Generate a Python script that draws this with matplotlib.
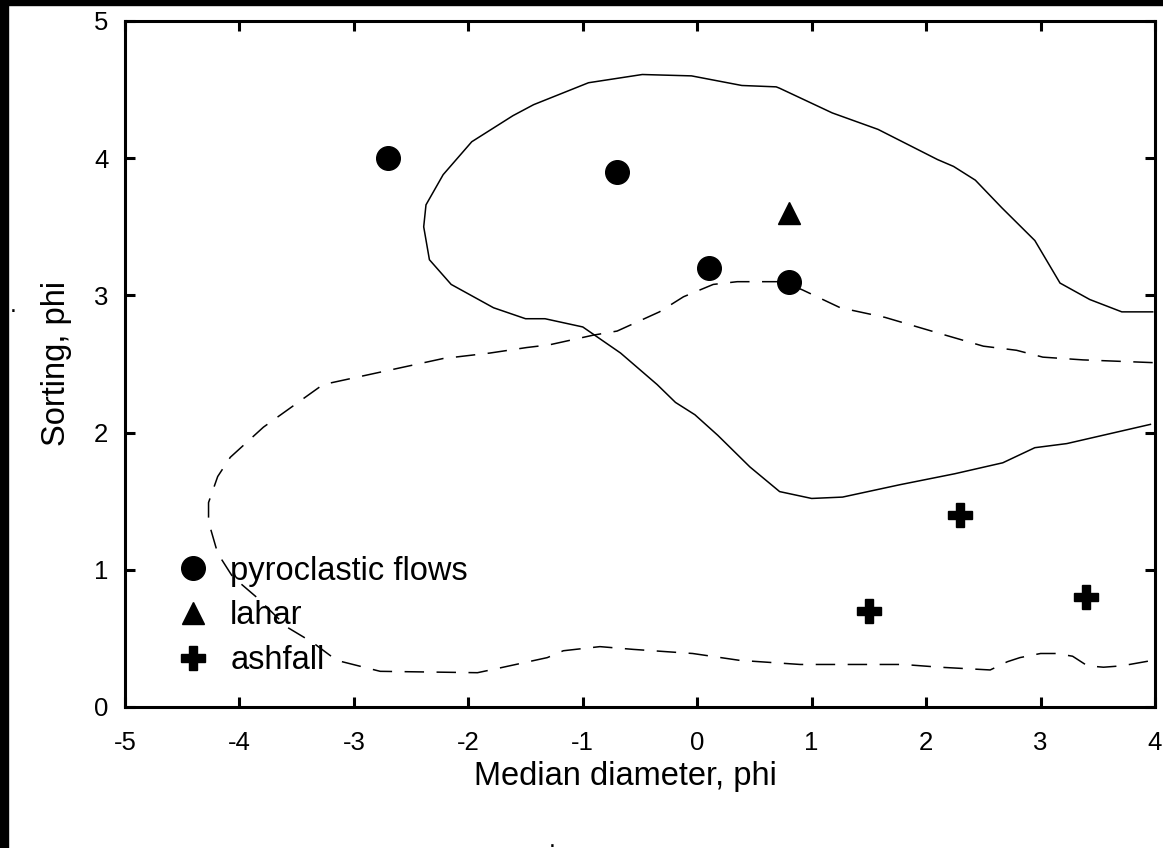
import matplotlib
matplotlib.use("Agg")
import matplotlib.pyplot as plt
from matplotlib.patches import Rectangle

plt.rcParams['font.family'] = ['Liberation Sans', 'DejaVu Sans']
plt.rcParams['lines.scale_dashes'] = False

# ---- data ----
flow_x = [-2.7, -0.7, 0.1, 0.8]
flow_y = [4.0, 3.9, 3.2, 3.1]
lahar_x = [0.8]
lahar_y = [3.6]
ash_x = [1.5, 2.3, 3.4]
ash_y = [0.7, 1.4, 0.8]

solid_x = [3.98, 3.71, 3.43, 3.17, 2.95, 2.66, 2.43, 2.24, 2.10, 1.58, 1.18, 0.72, 0.69, 0.39,
           -0.05, -0.48, -0.95, -1.43, -1.61, -1.97, -2.22, -2.37, -2.39, -2.34, -2.15, -1.78,
           -1.50, -1.33, -1.00, -0.67, -0.35, -0.19, -0.02, 0.18, 0.46, 0.72, 1.00, 1.27, 1.77,
           2.25, 2.67, 2.95, 3.23, 3.96]
solid_y = [2.88, 2.88, 2.97, 3.09, 3.40, 3.64, 3.84, 3.94, 3.99, 4.21, 4.33, 4.51, 4.52, 4.53,
           4.60, 4.61, 4.55, 4.39, 4.31, 4.12, 3.88, 3.66, 3.50, 3.26, 3.08, 2.91,
           2.83, 2.83, 2.77, 2.58, 2.35, 2.22, 2.13, 1.98, 1.75, 1.57, 1.52, 1.53, 1.62,
           1.70, 1.78, 1.89, 1.92, 2.06]

dash_x = [3.98, 3.37, 3.02, 2.79, 2.50, 2.17, 1.64, 1.25, 0.92, 0.75, 0.35, 0.14, -0.12, -0.33,
          -0.70, -0.91, -1.29, -1.49, -1.81, -2.22, -3.27, -3.79, -4.08, -4.19, -4.27, -4.27,
          -4.19, -4.06, -3.85, -3.58, -3.36, -3.15, -2.77, -1.92, -1.75, -1.31, -1.17, -0.85,
          -0.56, -0.04, 0.37, 0.90, 1.80, 2.12, 2.56, 2.71, 2.82, 3.00, 3.14, 3.28, 3.41, 3.55,
          3.71, 3.98]
dash_y = [2.51, 2.53, 2.55, 2.60, 2.63, 2.71, 2.84, 2.91, 3.04, 3.10, 3.10, 3.08, 2.99, 2.88,
          2.74, 2.71, 2.64, 2.62, 2.58, 2.54, 2.35, 2.04, 1.82, 1.68, 1.49, 1.35,
          1.12, 0.95, 0.80, 0.58, 0.47, 0.34, 0.26, 0.25, 0.28, 0.36, 0.41, 0.44,
          0.42, 0.39, 0.34, 0.31, 0.31, 0.29, 0.27, 0.33, 0.36, 0.39, 0.39, 0.37, 0.30, 0.29,
          0.30, 0.34]

x_ticks = [-5, -4, -3, -2, -1, 0, 1, 2, 3, 4]
y_ticks = [0, 1, 2, 3, 4, 5]
labels = ['pyroclastic flows', 'lahar', 'ashfall']

W, H = 1163, 848
fig = plt.figure(figsize=(W / 100, H / 100), dpi=100)
fig.patch.set_facecolor('white')
ax = fig.add_axes([125 / W, (H - 707) / H, 1030 / W, 686 / H])

ax.plot(solid_x, solid_y, color='black', lw=1.1, solid_joinstyle='miter')
ax.plot(dash_x, dash_y, color='black', lw=1.1, linestyle=(0, (14, 9)))

ax.plot(flow_x, flow_y, 'o', color='black', ms=17, label=labels[0], ls='none')
ax.plot(lahar_x, lahar_y, '^', color='black', ms=16, label=labels[1], ls='none')
ax.plot(ash_x, ash_y, 'P', color='black', ms=17, label=labels[2], ls='none')

ax.set_xlim(-5, 4)
ax.set_ylim(0, 5)
ax.set_xticks(x_ticks)
ax.set_yticks(y_ticks)
ax.set_xticklabels([str(v) for v in x_ticks])
ax.set_yticklabels([str(v) for v in y_ticks])
ax.tick_params(direction='in', length=7, width=2.2, labelsize=18.5, top=True, right=True,
               color='black')
ax.tick_params(axis='y', pad=12)
ax.tick_params(axis='x', pad=17)
for s in ax.spines.values():
    s.set_linewidth(2.2)

fig.text(625 / W, 1 - 776 / H, 'Median diameter, phi', ha='center', va='center', fontsize=23.5)
fig.text(56 / W, 1 - 363 / H, 'Sorting, phi', ha='center', va='center', fontsize=23.5,
         rotation=90)

leg = ax.legend(loc='lower left', bbox_to_anchor=(177 / W, 1 - 676 / H),
                bbox_transform=fig.transFigure, frameon=False, fontsize=23.5,
                handlelength=1.0, handletextpad=0.63, labelspacing=0.42,
                borderpad=0, borderaxespad=0, numpoints=1)

# stray marks and borders seen in the original
fig.text(13 / W, 1 - 312 / H, '.', ha='center', va='baseline', fontsize=18)
fig.text(552 / W, 1 - 847 / H, '.', ha='center', va='baseline', fontsize=18)
fig.patches.append(Rectangle((0, 0), 8 / W, 1, transform=fig.transFigure,
                             color='black', zorder=10))
fig.patches.append(Rectangle((0, 1 - 5 / H), 1, 5 / H, transform=fig.transFigure,
                             color='black', zorder=10))

fig.savefig('out.png', dpi=100)
